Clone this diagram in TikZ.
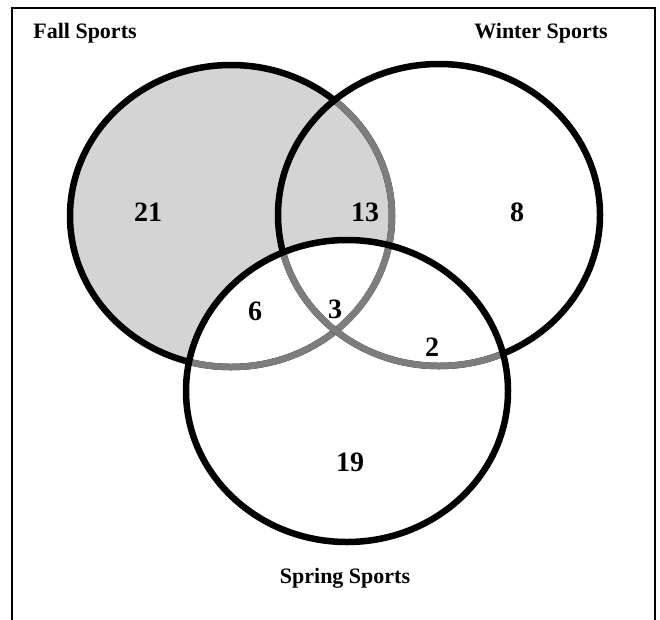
\documentclass[tikz,border=0pt]{standalone}
\usepackage{fontspec}
\setmainfont{Liberation Serif}
\definecolor{ShadeGray}{RGB}{212,212,212}
\definecolor{HiddenGray}{RGB}{125,125,125}
\tikzset{
  oval/.style={x radius=161,y radius=151},
  ring/.style={line width=6.5pt},
  title/.style={font=\bfseries\fontsize{22}{24}\selectfont},
  count/.style={font=\bfseries\fontsize{28}{30}\selectfont}
}

\begin{document}
\begin{tikzpicture}[x=1pt,y=-1pt]
  \useasboundingbox (0,0) rectangle (660,619);
  \draw[line width=1.2pt] (12,630) -- (12,8) -- (655,8) -- (655,630);
  % centres of the three sets
  \coordinate (fallc) at (231,216);
  \coordinate (winterc) at (439,215);
  \coordinate (springc) at (347,391);
  % shading
  \fill[ShadeGray] (fallc) ellipse [oval];
  \fill[white] (springc) ellipse [oval];
  % fall
  \draw[ring] (fallc) ellipse [oval];
  \begin{scope}
    \clip (winterc) ellipse [oval];
    \draw[ring,HiddenGray] (fallc) ellipse [oval];
  \end{scope}
  \begin{scope}
    \clip (springc) ellipse [oval];
    \draw[ring,HiddenGray] (fallc) ellipse [oval];
  \end{scope}
  % winter
  \draw[ring] (winterc) ellipse [oval];
  \begin{scope}
    \clip (springc) ellipse [oval];
    \draw[ring,HiddenGray] (winterc) ellipse [oval];
  \end{scope}
  % spring
  \draw[ring] (springc) ellipse [oval];
  % labels
  \node[title] (fall) at (85,33) {Fall Sports};
  \node[title] (winter) at (541,33) {Winter Sports};
  \node[title] (spring) at (345,578) {Spring Sports};
  \node[count] (onlyfall) at (148,212) {21};
  \node[count] (fallwinter) at (365,212) {13};
  \node[count] (onlywinter) at (517,212) {8};
  \node[count] (fallspring) at (255,311) {6};
  \node[count] (allthree) at (335,309) {3};
  \node[count] (winterspring) at (432,347) {2};
  \node[count] (onlyspring) at (350,462) {19};
\end{tikzpicture}
\end{document}
